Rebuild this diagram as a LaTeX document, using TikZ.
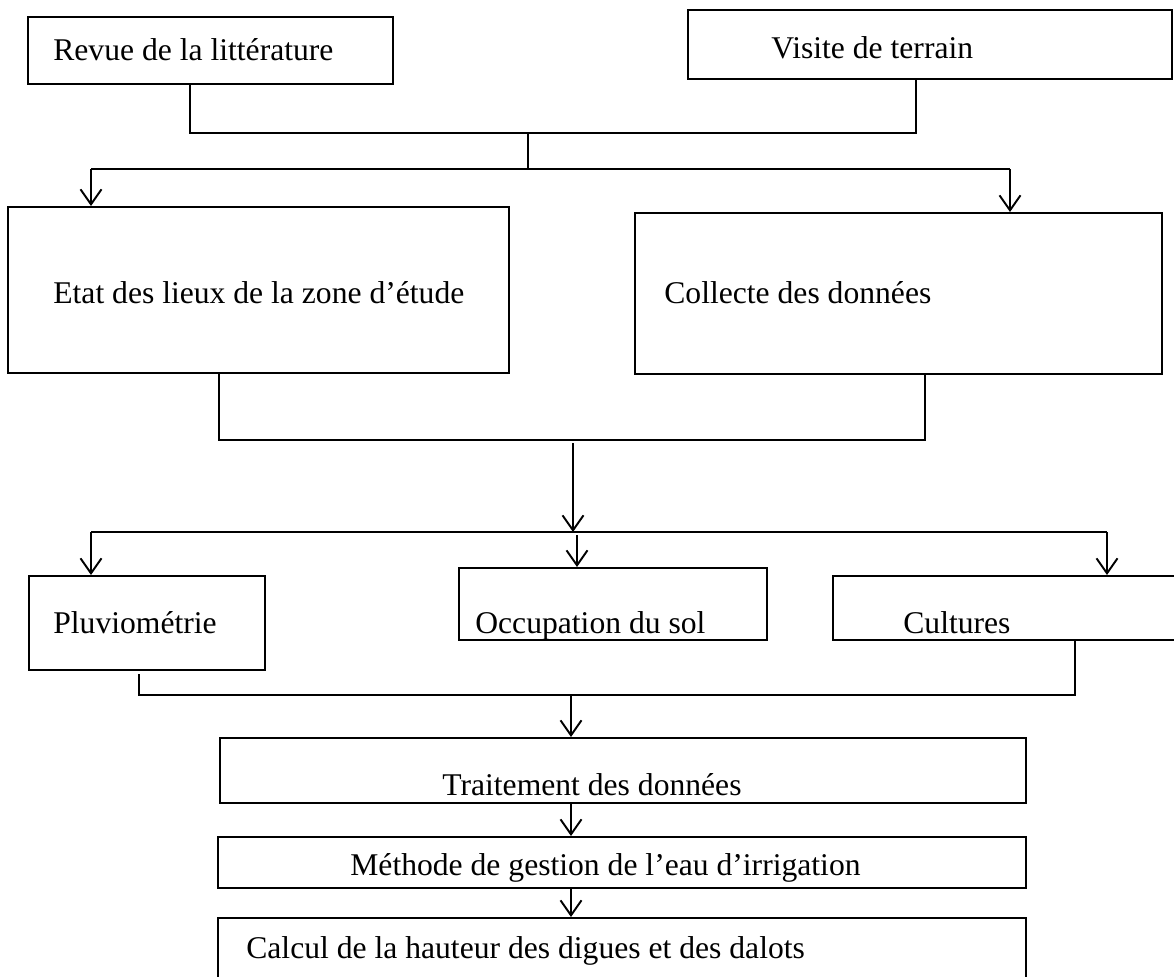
\documentclass[tikz,border=0pt]{standalone}
\usepackage{fontspec}
\setmainfont{Liberation Serif}
\usepackage{tikz}
\usetikzlibrary{arrows.meta}
\newcommand{\pxw}{0.02cm}
\tikzset{
  box/.style={draw,rectangle,line width=1.1pt,inner sep=0pt,anchor=north west},
  txt/.style={anchor=base west,inner sep=0pt,font=\fontsize{18}{22}\selectfont},
  link/.style={line width=1.1pt},
  arr/.style={line width=1.1pt,-{Straight Barb[length=3mm,width=4.2mm,line width=1.1pt]}}
}
\begin{document}
\begin{tikzpicture}[x=0.02cm,y=-0.02cm]
\clip(0,0)rectangle(1174,977);
%first row
\node[box,minimum width=365*\pxw,minimum height=67*\pxw](revue)at(27,16){};
\node[box,minimum width=484*\pxw,minimum height=69*\pxw](visite)at(687,9){};
\node[txt](revuetxt)at(53,60){Revue de la littérature};
\node[txt](visitetxt)at(771,58){Visite de terrain};
%second row
\node[box,minimum width=501*\pxw,minimum height=166*\pxw](etat)at(7,206){};
\node[box,minimum width=527*\pxw,minimum height=161*\pxw](collecte)at(634,212){};
\node[txt](etattxt)at(53,303){Etat des lieux de la zone d’étude};
\node[txt](collectetxt)at(664,303){Collecte des données};
%third row
\node[box,minimum width=236*\pxw,minimum height=94*\pxw](pluvio)at(28,575){};
\node[box,minimum width=308*\pxw,minimum height=72*\pxw](occup)at(458,567){};
\node[box,minimum width=360*\pxw,minimum height=64*\pxw](cultures)at(832,575){};
\node[txt](pluviotxt)at(53,633){Pluviométrie};
\node[txt](occuptxt)at(475,633){Occupation du sol};
\node[txt](culturestxt)at(903,633){Cultures};
%last boxes
\node[box,minimum width=806*\pxw,minimum height=65*\pxw](traitement)at(219,737){};
\node[box,minimum width=808*\pxw,minimum height=51*\pxw](methode)at(217,836){};
\node[box,minimum width=808*\pxw,minimum height=70*\pxw](calcul)at(217,917){};
\node[txt](traitementtxt)at(442,795){Traitement des données};
\node[txt](methodetxt)at(350,875){Méthode de gestion de l’eau d’irrigation};
\node[txt](calcultxt)at(246,958){Calcul de la hauteur des digues et des dalots};
%junctions
\coordinate(r1)at(190,133);
\coordinate(v1)at(916,133);
\coordinate(m1)at(528,133);
\coordinate(m2)at(528,169);
\coordinate(s1)at(91,169);
\coordinate(s2)at(1010,169);
\coordinate(e1)at(219,440);
\coordinate(c1)at(925,440);
\coordinate(d1)at(573,443);
\coordinate(d2)at(573,532);
\coordinate(t1)at(91,532);
\coordinate(t2)at(577,535);
\coordinate(t3)at(1107,532);
\coordinate(p1)at(139,674);
\coordinate(p2)at(139,695);
\coordinate(k1)at(1075,695);
\coordinate(g1)at(571,695);
%connectors
\draw[link](revue.south -| r1)--(r1)--(v1)--(visite.south -| v1);
\draw[link](m1)--(m2);
\draw[link](s1)--(s2);
\draw[arr](s1)--(etat.north -| s1);
\draw[arr](s2)--(collecte.north -| s2);
\draw[link](etat.south -| e1)--(e1)--(c1)--(collecte.south -| c1);
\draw[arr](d1)--(d2);
\draw[link](t1)--(t3);
\draw[arr](t1)--(pluvio.north -| t1);
\draw[arr](t2)--(occup.north -| t2);
\draw[arr](t3)--(cultures.north -| t3);
\draw[link](p1)--(p2)--(k1)--(cultures.south -| k1);
\draw[arr](g1)--(traitement.north -| g1);
\draw[arr](traitement.south -| g1)--(methode.north -| g1);
\draw[arr](methode.south -| g1)--(calcul.north -| g1);
\end{tikzpicture}
\end{document}
